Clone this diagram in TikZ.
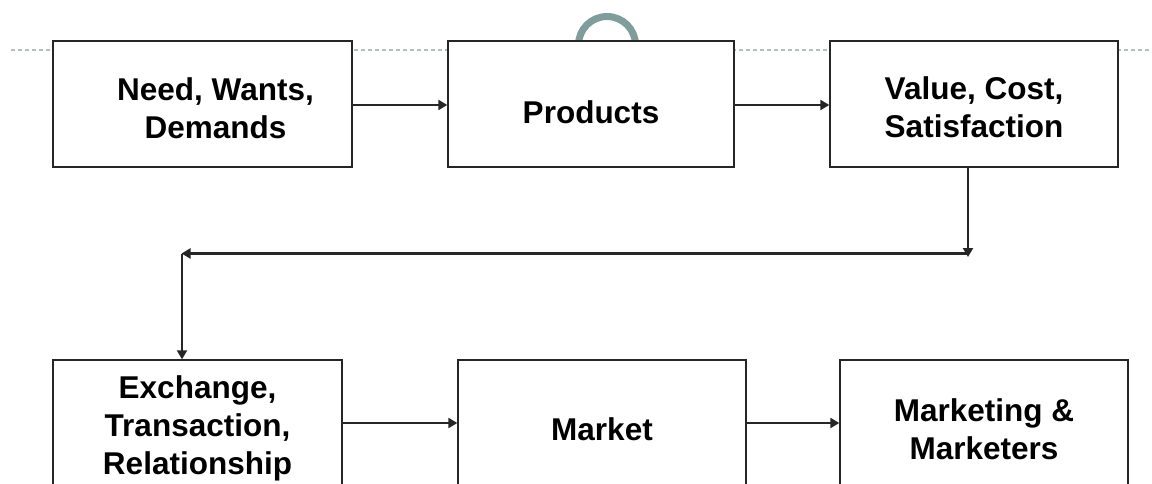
\documentclass[tikz,border=0pt]{standalone}
\usepackage{fontspec}
\setmainfont{Liberation Sans}
\usetikzlibrary{arrows.meta}
\definecolor{inkline}{HTML}{262626}
\definecolor{guide}{HTML}{B4BEBE}
\definecolor{ringcol}{HTML}{7F9E9B}
\begin{document}
\begin{tikzpicture}[x=1pt,y=-1pt,
  stepbox/.style={draw=inkline, line width=2.4pt, fill=white, inner sep=0pt,
    minimum height=126pt},
  lbl/.style={font=\fontsize{31.5}{38}\selectfont\bfseries, align=center,
    inner sep=0pt, text=black},
  arr/.style={draw=inkline, line width=2.2pt,
    -{Triangle[length=9pt,width=10pt]}, shorten >=-0.5pt}
]
\useasboundingbox (0,0) rectangle (1152,484);
\clip (0,0) rectangle (1152,484);

% slide guide line and ring behind the boxes
\draw[guide, line width=1.5pt, dash pattern=on 4pt off 3pt] (11,50) -- (1152,50);
\draw[ringcol, line width=7pt] (607,45) circle (28.5);

% top row
\node[stepbox, minimum width=299pt] (b1) at (202.5,104) {};
\node[stepbox, minimum width=286pt] (b2) at (591,104) {};
\node[stepbox, minimum width=288pt] (b3) at (974,104) {};
% bottom row
\node[stepbox, minimum width=289pt] (b4) at (197.5,423) {};
\node[stepbox, minimum width=288pt] (b5) at (602,423) {};
\node[stepbox, minimum width=288pt] (b6) at (984,423) {};

% labels
\node[lbl] (t1) at ([shift={(13,4)}]b1.center) {Need, Wants,\\Demands};
\node[lbl] (t2) at ([shift={(0,8)}]b2.center) {Products};
\node[lbl] (t3) at ([shift={(0,3.5)}]b3.center) {Value, Cost,\\Satisfaction};
\node[lbl] (t4) at ([shift={(0,5)}]b4.center) {Exchange,\\Transaction,\\Relationship};
\node[lbl] (t5) at ([shift={(0,6)}]b5.center) {Market};
\node[lbl] (t6) at ([shift={(0,6)}]b6.center) {Marketing \&\\Marketers};

% connectors
\coordinate (c1) at (968,253.5);
\coordinate (c2) at (182,253.5);
\draw[arr] ([yshift=-1pt]b1.east) -- ([yshift=-1pt]b2.west);
\draw[arr] ([yshift=-1pt]b2.east) -- ([yshift=-1pt]b3.west);
\draw[arr] (b3.south -| c1) -- ([yshift=-3pt]c1);
\draw[arr] (c1) -- (c2);
\draw[arr] (c2) -- (c2 |- b4.north);
\draw[arr] (b4.east) -- (b5.west);
\draw[arr] (b5.east) -- (b6.west);
\end{tikzpicture}
\end{document}
